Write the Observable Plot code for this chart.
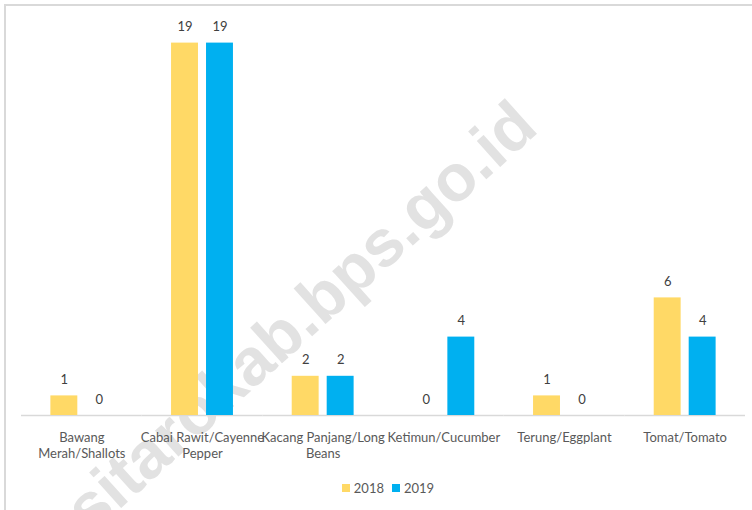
<!DOCTYPE html>
<html><head><meta charset="utf-8">
<script src="https://cdn.jsdelivr.net/npm/d3@7"></script>
<script src="https://cdn.jsdelivr.net/npm/@observablehq/plot@0.6"></script>
<style>
body{margin:0;background:#fff;}
#wrap{position:relative;width:752px;height:510px;overflow:hidden;font-family:Lato,sans-serif;background:#fff;}
#border{position:absolute;left:4px;top:4px;right:-10px;bottom:-10px;border-top:2px solid #d9d9d9;border-left:2px solid #d9d9d9;}
#wm{position:absolute;left:300px;top:316px;transform:translate(-50%,-50%) rotate(-42deg);font:bold 66px "Liberation Sans",sans-serif;color:#e2e2e2;white-space:nowrap;line-height:1;}
#chart{position:absolute;left:0;top:0;}
#legend{position:absolute;left:16px;top:471px;width:752px;display:flex;justify-content:center;}
#legend svg{margin-right:4px !important;}
#legend span{margin-right:8px !important;}
</style></head><body>
<div id="wrap"><div id="border"></div><div id="wm">sitarokab.bps.go.id</div><div id="chart"></div><div id="legend"></div></div>
<script>
const categories = ["Bawang Merah/Shallots","Cabai Rawit/Cayenne Pepper","Kacang Panjang/Long Beans","Ketimun/Cucumber","Terung/Eggplant","Tomat/Tomato"];
const tickLabels = ["Bawang\nMerah/Shallots","Cabai Rawit/Cayenne\nPepper","Kacang Panjang/Long\nBeans","Ketimun/Cucumber","Terung/Eggplant","Tomat/Tomato"];
const years = ["2018","2019"];
const values2018 = [1,19,2,0,1,6];
const values2019 = [0,19,2,4,0,4];
const colors = ["#FFD966","#00B0F0"];

const data = categories.flatMap((c,i)=>[
  {category:c, year:years[0], value:values2018[i]},
  {category:c, year:years[1], value:values2019[i]}
]);

const chart = Plot.plot({
  width: 752, height: 470,
  marginLeft: 21, marginRight: 7, marginTop: 23, marginBottom: 55,
  style: {background:"transparent", fontFamily:"Lato, sans-serif", fontSize:"13px", color:"#595959"},
  fx: {domain: categories, padding: 0, label: null, round: false},
  x: {domain: years, paddingInner: 0.23, paddingOuter: 0.84, axis: null, round: false},
  y: {domain: [0,20], axis: null},
  color: {domain: years, range: colors},
  marks: [
    Plot.ruleY([0], {stroke:"#d9d9d9", strokeWidth:1.5}),
    Plot.barY(data, {fx:"category", x:"year", y:"value", fill:"year"}),
    Plot.text(data, {fx:"category", x:"year", y:"value", text:d=>String(d.value), dy:-16, fill:"#404040", fontSize:13}),
    Plot.axisFx({anchor:"bottom", tickSize:0, tickPadding:14, tickFormat:d=>tickLabels[categories.indexOf(d)], lineHeight:1.3, label:null, fill:"#595959", fontSize:13})
  ]
});
document.getElementById("chart").append(chart);

const legend = Plot.legend({
  color:{domain:years, range:colors},
  legend:"swatches", swatchSize:8,
  style:{fontFamily:"Lato, sans-serif", fontSize:"13px", color:"#595959", background:"transparent"}
});
document.getElementById("legend").append(legend);
</script>
</body></html>
